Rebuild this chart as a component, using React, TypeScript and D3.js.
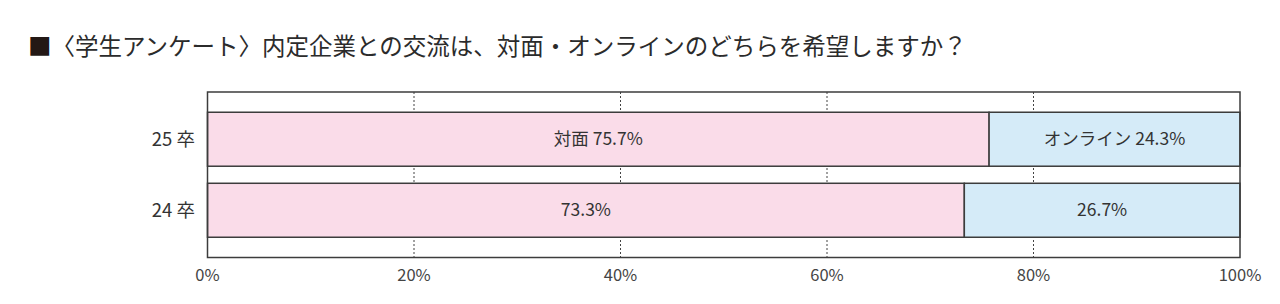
import React from "react";
import * as d3 from "d3";

const categories = ["25 卒", "24 卒"];
const inPerson = [75.7, 73.3];
const online = [24.3, 26.7];
const inPersonLabels = ["対面 75.7%", "73.3%"];
const onlineLabels = ["オンライン 24.3%", "26.7%"];
const ticks = [0, 20, 40, 60, 80, 100];
const title = "■〈学生アンケート〉内定企業との交流は、対面・オンラインのどちらを希望しますか？";

const W = 1280;
const H = 304;
const left = 207.5;
const right = 1240;
const top = 92;
const bottom = 257.5;

export default function App() {
  const x = d3.scaleLinear().domain([0, 100]).range([left, right]);
  const y = d3.scaleBand<string>().domain(categories).range([top, bottom]).paddingInner(0.24).paddingOuter(0.285);
  const font = "'Noto Sans CJK JP', 'Noto Sans', sans-serif";
  const stroke = "#3c3c3c";
  return (
    <svg width={W} height={H} style={{ position: "absolute", left: 0, top: 0, background: "#fff" }}>
      <text x={28} y={55} fontFamily={font} fontSize={23.5} fill="#2b2b2b">
        <tspan fill="#231815">■</tspan>
        {title.slice(1)}
      </text>
      {ticks.slice(1, -1).map((t) => (
        <line key={t} x1={x(t)} x2={x(t)} y1={top} y2={bottom} stroke="#444" strokeWidth={1} strokeDasharray="2,2" />
      ))}
      {categories.map((c, i) => {
        const y0 = y(c)!;
        const bh = y.bandwidth();
        return (
          <g key={c}>
            <rect x={x(0)} y={y0} width={x(inPerson[i]) - x(0)} height={bh} fill="#fadce9" stroke={stroke} strokeWidth={1.5} />
            <rect x={x(inPerson[i])} y={y0} width={x(inPerson[i] + online[i]) - x(inPerson[i])} height={bh} fill="#d5ebf8" stroke={stroke} strokeWidth={1.5} />
            <text x={(x(0) + x(inPerson[i])) / 2} y={y0 + bh / 2} dy="0.35em" textAnchor="middle" fontFamily={font} fontSize={17.5} fill="#333">
              {inPersonLabels[i]}
            </text>
            <text x={(x(inPerson[i]) + x(100)) / 2} y={y0 + bh / 2} dy="0.35em" textAnchor="middle" fontFamily={font} fontSize={17.5} fill="#333">
              {onlineLabels[i]}
            </text>
            <text x={195} y={y0 + bh / 2} dy="0.35em" textAnchor="end" fontFamily={font} fontSize={18.5} fill="#333">
              {c}
            </text>
          </g>
        );
      })}
      <rect x={left} y={top} width={right - left} height={bottom - top} fill="none" stroke={stroke} strokeWidth={1.5} />
      {ticks.map((t) => (
        <text key={t} x={x(t)} y={281} textAnchor="middle" fontFamily={font} fontSize={16.5} fill="#444">
          {t}%
        </text>
      ))}
    </svg>
  );
}
